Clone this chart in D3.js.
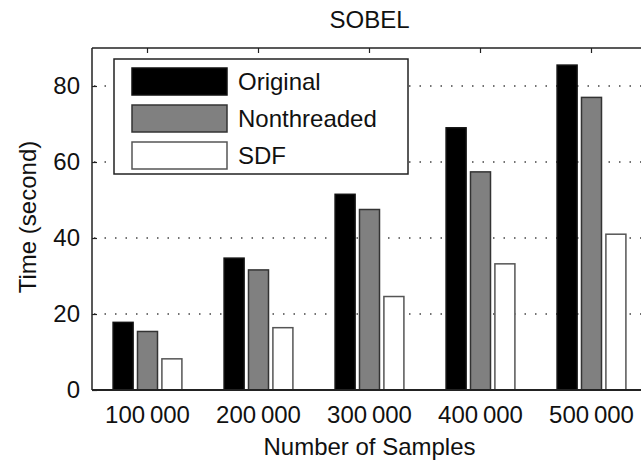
<!DOCTYPE html>
<html>
<head>
<meta charset="utf-8">
<script src="https://cdn.jsdelivr.net/npm/d3@7"></script>
<style>
  body { margin: 0; background: #fff; }
  svg text { font-family: "Liberation Sans", Arial, sans-serif; fill: #111; }
</style>
</head>
<body>
<div id="chart"></div>
<script>
const categories = ["100\u2009000", "200\u2009000", "300\u2009000", "400\u2009000", "500\u2009000"];
const seriesNames = ["Original", "Nonthreaded", "SDF"];
const original = [17.8, 34.7, 51.5, 69.0, 85.5];
const nonthreaded = [15.4, 31.6, 47.5, 57.4, 77.0];
const sdf = [8.2, 16.4, 24.6, 33.2, 41.0];
const yTicks = [0, 20, 40, 60, 80];

const width = 641, height = 461;
const margin = {top: 48, left: 92, right: -6, bottom: 71};
const fills = ["#000000", "#808080", "#ffffff"];
const strokes = ["#111", "#333", "#555"];
const fontSize = 24;

const rows = categories.map((c, i) => ({
    cat: c,
    values: [original[i], nonthreaded[i], sdf[i]]
}));

const svg = d3.select("#chart").append("svg")
    .attr("width", width)
    .attr("height", height);

const x0 = d3.scaleBand()
    .domain(categories)
    .range([margin.left, width - margin.right])
    .paddingInner(0.38)
    .paddingOuter(0.19);

const x1 = d3.scaleBand()
    .domain(d3.range(seriesNames.length))
    .range([0, x0.bandwidth()])
    .paddingInner(0.18);

const y = d3.scaleLinear()
    .domain([0, 90])
    .range([height - margin.bottom, margin.top]);

const plotRight = width - margin.right;

// dotted grid
svg.append("g")
    .selectAll("line")
    .data(yTicks.filter(d => d > 0))
    .join("line")
    .attr("x1", margin.left + 2)
    .attr("x2", plotRight)
    .attr("y1", d => y(d))
    .attr("y2", d => y(d))
    .attr("stroke", "#444")
    .attr("stroke-width", 1.3)
    .attr("stroke-dasharray", "1.5,9");

// bars
const groups = svg.append("g")
    .selectAll("g")
    .data(rows)
    .join("g")
    .attr("transform", d => `translate(${x0(d.cat)},0)`);

groups.selectAll("rect")
    .data(d => d.values.map((v, k) => ({k, v})))
    .join("rect")
    .attr("x", d => x1(d.k))
    .attr("y", d => y(d.v))
    .attr("width", x1.bandwidth())
    .attr("height", d => y(0) - y(d.v))
    .attr("fill", d => fills[d.k])
    .attr("stroke", d => strokes[d.k])
    .attr("stroke-width", 1.5);

// axes frame
const yAxis = svg.append("g")
    .attr("transform", `translate(${margin.left},0)`)
    .call(d3.axisLeft(y).tickValues(yTicks).tickSize(-5).tickPadding(12))
    .call(g => g.select(".domain").remove());
yAxis.selectAll(".tick line").attr("stroke", "#222").attr("stroke-width", 1.2);
yAxis.selectAll(".tick text").attr("font-size", fontSize);

const xTop = svg.append("g")
    .attr("transform", `translate(0,${margin.top})`)
    .call(d3.axisTop(x0).tickSize(-5).tickFormat(""))
    .call(g => g.select(".domain").remove());
xTop.selectAll(".tick line").attr("stroke", "#222").attr("stroke-width", 1.2);

const xAxis = svg.append("g")
    .attr("transform", `translate(0,${y(0)})`)
    .call(d3.axisBottom(x0).tickSize(0).tickPadding(16))
    .call(g => g.select(".domain").remove());
xAxis.selectAll(".tick text").attr("font-size", fontSize);

svg.append("line")
    .attr("x1", margin.left).attr("x2", margin.left)
    .attr("y1", margin.top).attr("y2", y(0))
    .attr("stroke", "#222").attr("stroke-width", 1.5);
svg.append("line")
    .attr("x1", margin.left).attr("x2", plotRight)
    .attr("y1", margin.top).attr("y2", margin.top)
    .attr("stroke", "#222").attr("stroke-width", 1.5);
svg.append("line")
    .attr("x1", margin.left).attr("x2", plotRight)
    .attr("y1", y(0)).attr("y2", y(0))
    .attr("stroke", "#222").attr("stroke-width", 2);

// titles
svg.append("text")
    .attr("x", (margin.left + plotRight) / 2)
    .attr("y", 28)
    .attr("text-anchor", "middle")
    .attr("font-size", fontSize)
    .text("SOBEL");

svg.append("text")
    .attr("x", (margin.left + plotRight) / 2)
    .attr("y", 455)
    .attr("text-anchor", "middle")
    .attr("font-size", fontSize)
    .text("Number of Samples");

svg.append("text")
    .attr("transform", `translate(36,${(margin.top + y(0)) / 2 - 2}) rotate(-90)`)
    .attr("text-anchor", "middle")
    .attr("font-size", fontSize)
    .text("Time (second)");

// legend
const legend = svg.append("g").attr("transform", "translate(114,59)");
legend.append("rect")
    .attr("width", 294).attr("height", 115)
    .attr("fill", "#fff").attr("stroke", "#222").attr("stroke-width", 1.5);

const item = legend.selectAll("g.item")
    .data(seriesNames)
    .join("g")
    .attr("class", "item")
    .attr("transform", (d, i) => `translate(18,${9 + i * 37})`);
item.append("rect")
    .attr("width", 95).attr("height", 27)
    .attr("fill", (d, i) => fills[i])
    .attr("stroke", (d, i) => strokes[i])
    .attr("stroke-width", 1.5);
item.append("text")
    .attr("x", 106).attr("y", 14)
    .attr("dy", "0.35em")
    .attr("font-size", fontSize)
    .text(d => d);
</script>
</body>
</html>
